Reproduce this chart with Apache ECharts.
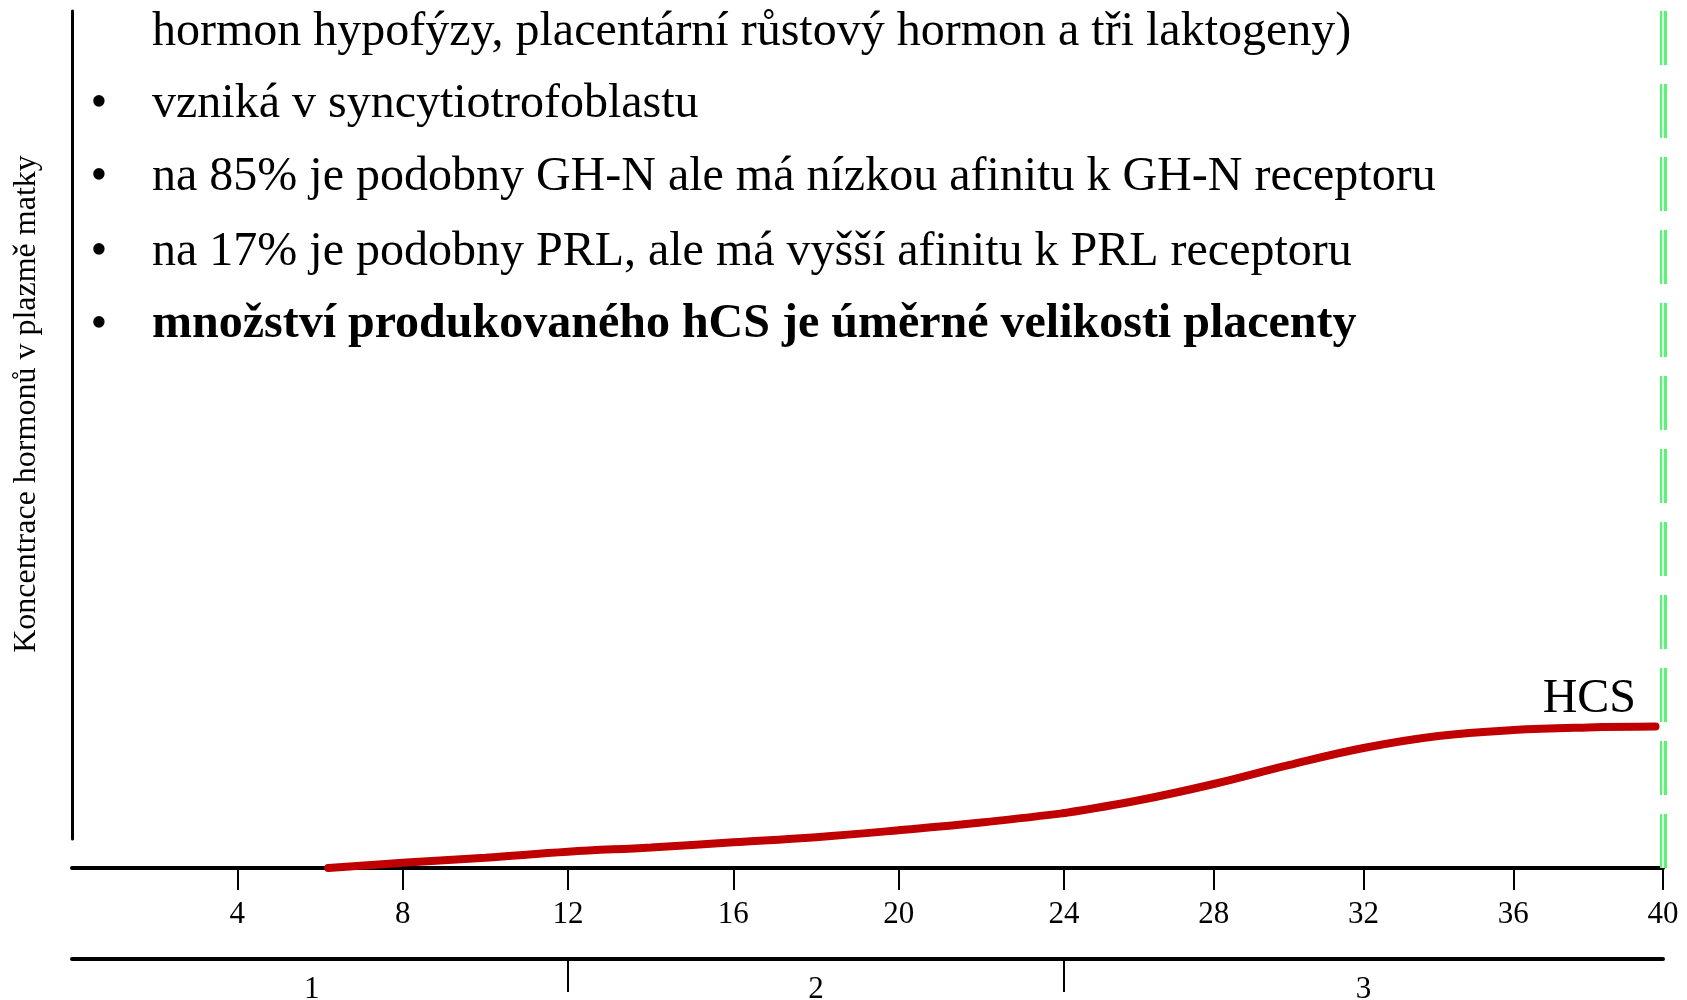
<!DOCTYPE html>
<html>
<head>
<meta charset="utf-8">
<script src="https://cdn.jsdelivr.net/npm/echarts@6/dist/echarts.min.js"></script>
<style>
html,body{margin:0;padding:0;background:#fff;}
#chart{width:1687px;height:1000px;}
</style>
</head>
<body>
<div id="chart"></div>
<script>
// ---- data ----
const weeks = [6.2, 8, 10, 12, 14, 16, 18, 20, 22, 24, 26, 28, 30, 32, 34, 36, 38, 39.8];
const hcsLevel = [0, 0.6, 1.2, 1.9, 2.4, 3.0, 3.6, 4.4, 5.3, 6.4, 7.9, 9.8, 12.0, 14.0, 15.4, 16.1, 16.4, 16.5];
const weekTicks = [4, 8, 12, 16, 20, 24, 28, 32, 36, 40];
const trimesterBounds = [12, 24];
const trimesterCenters = [5.8, 18, 32];
const trimesterLabels = ['1', '2', '3'];
const seriesName = 'HCS';
const yAxisTitle = 'Koncentrace hormonů v plazmě matky';
const textLines = [
  'hormon hypofýzy, placentární růstový hormon a tři laktogeny)',
  'vzniká v syncytiotrofoblastu',
  'na 85% je podobny GH-N ale má nízkou afinitu k GH-N receptoru',
  'na 17% je podobny PRL, ale má vyšší afinitu k PRL receptoru',
  'množství produkovaného hCS je úměrné velikosti placenty'
];
const textBullet = [false, true, true, true, true];
const textBold = [false, false, false, false, true];

// ---- layout ----
const FONT = '"Liberation Serif", "Times New Roman", serif';
const SPLIT = 24;
const pts = weeks.map((w, i) => [w, hcsLevel[i]]);
const leftPts = pts.filter(p => p[0] <= SPLIT);
const rightPts = pts.filter(p => p[0] >= SPLIT);

const chart = echarts.init(document.getElementById('chart'), null, {renderer: 'canvas'});

function weekAxis(grid, min, max, ticks) {
  return {
    type: 'value', gridIndex: grid, min: min, max: max, position: 'bottom',
    axisLine: {show: true, onZero: false, lineStyle: {color: '#000', width: 4}},
    axisTick: {show: true, customValues: ticks, length: 22, lineStyle: {color: '#000', width: 2}},
    axisLabel: {show: true, customValues: ticks, color: '#000', fontSize: 31, fontFamily: FONT, margin: 31},
    splitLine: {show: false}
  };
}
function trimAxis(grid, min, max, ticks, centers) {
  return {
    type: 'value', gridIndex: grid, min: min, max: max, position: 'bottom', offset: 91,
    axisLine: {show: true, onZero: false, lineStyle: {color: '#000', width: 4}},
    axisTick: {show: ticks.length > 0, customValues: ticks, length: 33, lineStyle: {color: '#000', width: 2}},
    axisLabel: {show: true, customValues: centers, color: '#000', fontSize: 31, fontFamily: FONT, margin: 15,
      formatter: v => trimesterLabels[trimesterCenters.indexOf(v)] || ''},
    splitLine: {show: false}
  };
}
const hiddenY = (grid) => ({type: 'value', gridIndex: grid, min: 0, max: 100, show: false});

const graphics = [];
const lineY = [32, 104, 177, 252, 325];
textLines.forEach((t, i) => {
  graphics.push({
    type: 'text', x: 152, y: lineY[i], silent: true,
    style: {text: t, font: (textBold[i] ? 'bold ' : '') + '48px ' + FONT, fill: '#000',
      textAlign: 'left', textVerticalAlign: 'middle'}
  });
  if (textBullet[i]) {
    graphics.push({
      type: 'text', x: 99, y: lineY[i], silent: true,
      style: {text: '•', font: '48px ' + FONT, fill: '#000', textAlign: 'center', textVerticalAlign: 'middle'}
    });
  }
});
graphics.push({
  type: 'text', x: 27, y: 404, rotation: Math.PI / 2, silent: true,
  style: {text: yAxisTitle, font: '32px ' + FONT, fill: '#000', textAlign: 'center', textVerticalAlign: 'middle'}
});
graphics.push({
  type: 'text', x: 1636, y: 699, silent: true,
  style: {text: seriesName, font: '48px ' + FONT, fill: '#000', textAlign: 'right', textVerticalAlign: 'middle'}
});

const lineStyle = {color: '#c00000', width: 8, cap: 'round'};
const gridBase = {outerBoundsMode: 'none', containLabel: false};

chart.setOption({
  animation: false,
  backgroundColor: '#fff',
  grid: [
    Object.assign({left: 72, top: 11, width: 992, height: 857}, gridBase),
    Object.assign({left: 1064, top: 11, width: 599, height: 857}, gridBase),
    Object.assign({left: 72, top: 11, width: 1, height: 828}, gridBase)
  ],
  xAxis: [
    weekAxis(0, 0, SPLIT, weekTicks.filter(v => v > 0 && v <= SPLIT)),
    weekAxis(1, SPLIT, 40, weekTicks.filter(v => v > SPLIT)),
    trimAxis(0, 0, SPLIT, trimesterBounds, trimesterCenters.filter(v => v < SPLIT)),
    trimAxis(1, SPLIT, 40, [], trimesterCenters.filter(v => v > SPLIT)),
    {type: 'value', gridIndex: 2, show: false}
  ],
  yAxis: [
    hiddenY(0), hiddenY(1),
    {type: 'value', gridIndex: 2, min: 0, max: 1,
      axisLine: {show: true, lineStyle: {color: '#000', width: 3}},
      axisTick: {show: false}, axisLabel: {show: false}, splitLine: {show: false}}
  ],
  series: [
    {name: seriesName, type: 'line', xAxisIndex: 0, yAxisIndex: 0, data: leftPts, smooth: 0.4,
      symbol: 'none', clip: false, lineStyle: lineStyle, z: 5},
    {name: seriesName, type: 'line', xAxisIndex: 1, yAxisIndex: 1, data: rightPts, smooth: 0.4,
      symbol: 'none', clip: false, lineStyle: lineStyle, z: 5,
      markLine: {
        silent: true, symbol: ['none', 'none'], label: {show: false},
        data: [
          {xAxis: 40, lineStyle: {color: '#5cf27a', width: 7, type: [54, 19]}},
          {xAxis: 40, lineStyle: {color: '#d6ffdd', width: 2, type: [54, 19]}}
        ]
      }}
  ],
  graphic: graphics
});
</script>
</body>
</html>
